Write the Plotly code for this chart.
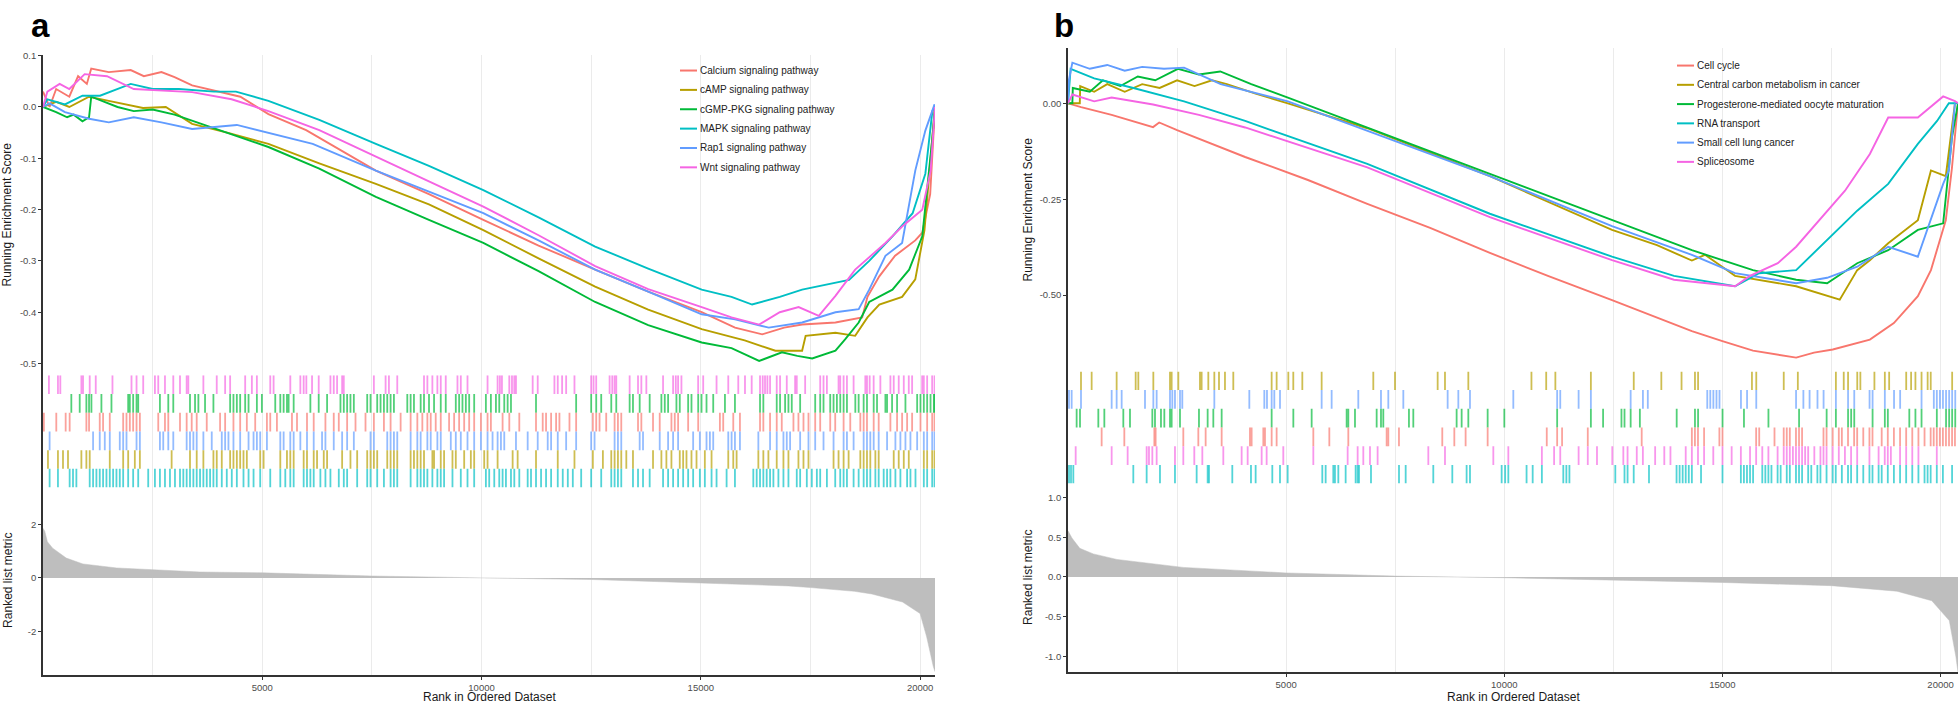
import plotly.graph_objects as go

W, H = 1960, 704
def px(x): return x / W
def py(y): return 1 - y / H

# ---------------- DATA ----------------
# colours (ggplot hue palette)
c_red, c_gold, c_green, c_cyan, c_blue, c_pink = "#F8766D", "#B79F00", "#00BA38", "#00BFC4", "#619CFF", "#F564E3"

# ----- panel a -----
a_names = ["Calcium signaling pathway", "cAMP signaling pathway", "cGMP-PKG signaling pathway",
           "MAPK signaling pathway", "Rap1 signaling pathway", "Wnt signaling pathway"]
a_colors = [c_red, c_gold, c_green, c_cyan, c_blue, c_pink]

es_a_calcium = [(0,0.03),(150,0.0),(300,0.035),(600,0.02),(800,0.06),(1000,0.045),(1100,0.075),(1500,0.068),(2000,0.072),(2300,0.06),(2700,0.068),(3000,0.058),(3400,0.042),(4000,0.03),(4500,0.02),(5140,-0.014),(6000,-0.045),(7590,-0.124),(8800,-0.17),(10040,-0.22),(11300,-0.27),(12590,-0.317),(13800,-0.36),(15020,-0.40),(15780,-0.43),(16400,-0.443),(16900,-0.43),(17310,-0.424),(18070,-0.42),(18680,-0.41),(18800,-0.37),(19070,-0.33),(19430,-0.29),(19890,-0.26),(20050,-0.245),(20230,-0.17),(20340,0.0)]
es_a_camp = [(0,0.0),(300,0.01),(600,0.0),(1050,0.02),(1500,0.012),(2280,-0.002),(2800,0.0),(3400,-0.033),(4200,-0.05),(5140,-0.072),(6300,-0.11),(7590,-0.15),(8800,-0.19),(10040,-0.24),(11300,-0.295),(12590,-0.35),(13800,-0.395),(15020,-0.433),(16000,-0.455),(16700,-0.475),(17310,-0.475),(17390,-0.446),(18070,-0.44),(18520,-0.446),(18800,-0.41),(19070,-0.385),(19590,-0.37),(19890,-0.336),(20100,-0.24),(20240,-0.09),(20340,0.0)]
es_a_cgmp = [(0,0.0),(300,-0.01),(550,-0.02),(700,-0.015),(900,-0.028),(1050,-0.02),(1100,0.02),(1400,0.01),(1700,0.0),(2070,-0.008),(2500,-0.005),(3000,-0.015),(3400,-0.027),(4200,-0.05),(5140,-0.078),(6300,-0.12),(7590,-0.175),(8800,-0.22),(10040,-0.265),(11300,-0.32),(12590,-0.38),(13800,-0.425),(15020,-0.459),(15700,-0.47),(16330,-0.495),(16850,-0.478),(17200,-0.485),(17540,-0.49),(18070,-0.475),(18290,-0.453),(18600,-0.42),(18840,-0.38),(19370,-0.356),(19750,-0.317),(20050,-0.252),(20280,-0.06),(20340,0.0)]
es_a_mapk = [(0,0.0),(100,0.015),(500,0.005),(900,0.022),(1300,0.022),(2000,0.045),(2500,0.035),(3100,0.035),(3900,0.03),(4400,0.03),(5140,0.012),(6300,-0.025),(7590,-0.072),(8800,-0.115),(10040,-0.162),(11300,-0.215),(12590,-0.272),(13800,-0.315),(15020,-0.356),(15700,-0.37),(16170,-0.385),(16800,-0.37),(17310,-0.356),(18380,-0.337),(18840,-0.30),(19370,-0.252),(19830,-0.207),(20120,-0.13),(20280,-0.008),(20340,0.0)]
es_a_rap1 = [(0,0.0),(150,0.007),(500,-0.01),(1050,-0.023),(1500,-0.03),(2070,-0.02),(2700,-0.03),(3400,-0.043),(4420,-0.035),(5140,-0.05),(6150,-0.072),(7590,-0.124),(8800,-0.165),(10040,-0.207),(11300,-0.26),(12590,-0.317),(13800,-0.36),(15020,-0.404),(15780,-0.414),(16550,-0.43),(17310,-0.42),(18070,-0.40),(18600,-0.394),(18840,-0.356),(19210,-0.29),(19590,-0.265),(19890,-0.124),(20120,-0.046),(20330,0.005),(20340,0.0)]
es_a_wnt = [(0,0.0),(100,0.03),(380,0.045),(600,0.035),(950,0.064),(1460,0.06),(2070,0.035),(2800,0.032),(3400,0.029),(4300,0.015),(5140,-0.008),(6300,-0.045),(7590,-0.097),(8800,-0.145),(10040,-0.194),(11300,-0.25),(12590,-0.31),(13800,-0.355),(15020,-0.39),(15700,-0.41),(16330,-0.424),(16800,-0.4),(17230,-0.39),(17690,-0.407),(18070,-0.368),(18520,-0.317),(19210,-0.265),(19590,-0.233),(20050,-0.2),(20240,-0.124),(20340,0.0)]

hits_a_wnt = [135,341,395,875,913,1065,1203,1584,2018,2133,2285,2552,2628,2781,2971,3124,3276,3314,3657,3962,4153,4267,4610,4763,4877,5182,5258,5639,5868,5944,6005,6135,6287,6554,6630,6706,6821,6859,7545,7812,7888,8078,8688,8765,8879,8993,9070,9184,9451,9527,9680,10137,10366,10419,10465,10633,10694,10747,10785,11166,11281,11662,11738,11837,11929,12119,12500,12554,12615,12920,12981,13034,13072,13377,13568,13644,13758,14139,14368,14429,14482,14558,14939,15054,15359,15626,15854,16007,16160,16350,16411,16464,16518,16579,16731,16807,16960,17150,17188,17379,17722,17798,17875,18141,18179,18256,18332,18484,18751,18789,18850,18941,19094,19323,19399,19513,19628,19742,19818,20047,20085,20161,20275,20330]
hits_a_cgmp = [646,837,989,1050,1104,1332,1561,1942,1980,2056,2133,2171,2666,2857,2971,3352,3467,3543,3695,3886,4267,4343,4420,4496,4610,4687,4877,4991,5296,5411,5487,5563,5601,5716,6097,6287,6478,6783,6859,6935,7011,7088,7393,7469,7621,7697,7774,7850,7926,8002,8307,8383,8459,8612,8688,8802,8917,9070,9184,9413,9489,9565,9642,9718,9832,10099,10213,10328,10404,10518,10595,10671,11242,12157,12500,12615,12729,12958,13072,13377,13453,13606,13834,14101,14178,14254,14444,14520,14711,14787,14940,15016,15130,15283,15550,15778,16350,16426,16731,16807,16922,16998,17074,17265,17608,17722,17798,17951,18027,18103,18180,18256,18332,18523,18599,18713,18789,18942,19018,19209,19247,19361,19475,19666,19933,20009,20085,20161,20238,20314,20330]
hits_a_calcium = [20,303,517,608,989,1050,1294,1370,1523,1828,1904,1980,2056,2133,2209,2628,2781,2857,3124,3276,3391,3505,3734,4038,4153,4343,4496,4648,4839,5106,5182,5334,5677,5792,6020,6173,6440,6630,6745,6935,7126,7354,7545,7774,7926,8155,8383,8536,8650,8765,8841,8955,9070,9260,9375,9489,9604,9718,9832,9985,10137,10213,10480,10633,10861,11242,11395,11471,11586,11700,11776,12005,12157,12538,12615,12691,12843,13034,13110,13186,13568,13644,13910,14063,14330,14406,14482,14711,14940,15435,15511,15740,15892,16350,16426,16579,16731,16846,17112,17226,17341,17455,17608,17722,17951,18065,18256,18408,18637,18713,18789,18942,19056,19323,19475,19590,19704,19818,20009,20161,20276,20330]
hits_a_rap1 = [151,1142,1294,1409,1523,1751,1828,1904,2133,2209,2666,2742,2857,2971,3276,3352,3429,3505,3657,3848,4077,4153,4229,4343,4496,4687,4801,4877,4953,5106,5411,5487,5639,5716,5868,6020,6173,6363,6440,6630,6821,6935,7088,7469,7545,7850,7926,8002,8078,8383,8536,8612,8765,8841,8993,9070,9299,9413,9527,9680,9832,9985,10137,10251,10366,10442,10518,10785,11052,11281,11509,11586,11738,11929,12157,12500,12577,13034,13110,13186,13606,13682,14063,14254,14368,14482,14825,14978,15130,15207,15283,15626,15702,15778,15892,16312,16579,16731,16884,16960,17036,17265,17455,17608,17798,18027,18256,18332,18484,18713,18789,18865,18942,19056,19247,19437,19551,19666,19780,19933,20085,20161,20276,20330]
hits_a_camp = [113,341,456,570,875,989,1065,1523,1828,1942,2094,2209,2933,3352,3505,3657,3886,3962,4077,4267,4343,4420,4496,4572,4648,4953,5030,5411,5563,5639,5716,5944,6020,6173,6249,6402,6478,6821,7011,7164,7393,7469,7545,7621,7850,7926,8002,8078,8383,8459,8536,8612,8688,8879,8917,9070,9146,9337,9413,9604,9756,9832,10061,10137,10366,10709,10823,11242,11738,12119,12538,12767,12958,13034,13110,13186,13301,13453,13910,14101,14215,14330,14520,14597,14673,14787,14902,15092,15245,15626,15740,15816,16312,16426,16541,16731,16884,16998,17226,17341,17455,18027,18141,18256,18370,18637,18713,18789,18865,18980,19056,19399,19513,19628,19742,20085,20161,20276,20330]
hits_a_mapk = [151,341,608,684,761,1065,1142,1218,1294,1370,1447,1523,1599,1675,1751,1828,1942,2056,2171,2399,2552,2666,2781,2895,3009,3124,3200,3276,3352,3429,3505,3581,3657,3734,3810,3886,3962,4077,4191,4305,4420,4572,4687,4801,4953,5182,5411,5525,5639,5716,5944,6020,6097,6173,6325,6440,6554,6745,6859,6935,7164,7393,7469,7621,7774,7926,8002,8078,8383,8536,8612,8688,8765,8879,8993,9070,9146,9337,9527,9680,9832,10099,10175,10290,10404,10480,10556,10671,10747,10861,11052,11128,11242,11357,11471,11586,11738,11852,11967,12081,12272,12500,12729,12958,13034,13110,13186,13453,13568,13682,13834,14139,14254,14368,14482,14597,14711,14825,14978,15092,15245,15359,15588,15778,16197,16274,16350,16426,16502,16579,16655,16769,16884,16998,17188,17265,17417,17531,17646,17722,17875,18065,18179,18256,18332,18484,18599,18713,18789,18865,18980,19056,19170,19247,19323,19437,19551,19704,19780,19895,20085,20161,20276,20330]

metric_a_rank = [0, 40, 100, 220, 530, 910, 1680, 2440, 3580, 5000, 7500, 10000, 12500, 15000, 17000, 17500, 18500, 18900, 19600, 20000, 20150, 20300, 20340]
metric_a_value = [1.85, 1.74, 1.35, 1.11, 0.74, 0.52, 0.37, 0.30, 0.22, 0.19, 0.07, 0.0, -0.06, -0.19, -0.30, -0.36, -0.50, -0.60, -0.90, -1.33, -2.2, -3.3, -3.5]

# ----- panel b -----
b_names = ["Cell cycle", "Central carbon metabolism in cancer", "Progesterone-mediated oocyte maturation",
           "RNA transport", "Small cell lung cancer", "Spliceosome"]
b_colors = [c_red, c_gold, c_green, c_cyan, c_blue, c_pink]

es_b_cellcycle = [(0,0.0),(300,-0.01),(1000,-0.03),(1950,-0.062),(2090,-0.05),(2500,-0.07),(4060,-0.14),(5500,-0.2),(6860,-0.262),(8300,-0.325),(9670,-0.39),(11000,-0.45),(12470,-0.513),(13400,-0.555),(14300,-0.594),(15000,-0.62),(15700,-0.645),(16690,-0.663),(17100,-0.65),(17530,-0.642),(18380,-0.616),(18930,-0.573),(19480,-0.503),(19780,-0.435),(20120,-0.305),(20260,-0.17),(20400,0.0)]
es_b_carbon = [(0,0.0),(270,0.0),(280,0.045),(600,0.03),(900,0.05),(1300,0.03),(1700,0.05),(2100,0.04),(2500,0.06),(2900,0.045),(3300,0.06),(3640,0.05),(4300,0.025),(5040,0.0),(6860,-0.065),(9670,-0.19),(12470,-0.33),(13500,-0.37),(14300,-0.41),(14600,-0.395),(15290,-0.45),(16690,-0.477),(17690,-0.512),(18090,-0.435),(18380,-0.409),(18800,-0.365),(19480,-0.305),(19780,-0.175),(20120,-0.19),(20330,0.0)]
es_b_progesterone = [(0,0.0),(100,0.0),(110,0.04),(500,0.03),(800,0.06),(1200,0.045),(1600,0.07),(2000,0.06),(2520,0.09),(3000,0.075),(3490,0.083),(4200,0.05),(5040,0.015),(6860,-0.063),(9670,-0.184),(12470,-0.305),(14300,-0.383),(15700,-0.435),(16690,-0.46),(17400,-0.469),(18090,-0.417),(18800,-0.383),(19480,-0.33),(20060,-0.313),(20260,-0.09),(20400,0.0)]
es_b_rna = [(0,0.0),(60,0.09),(600,0.065),(1500,0.04),(2660,0.005),(4060,-0.046),(6860,-0.158),(9670,-0.288),(12470,-0.4),(13890,-0.45),(15290,-0.477),(15840,-0.443),(16690,-0.435),(17400,-0.357),(18090,-0.28),(18800,-0.21),(19480,-0.106),(19920,-0.046),(20190,0.0),(20400,0.0)]
es_b_sclc = [(0,0.0),(20,0.06),(100,0.106),(500,0.09),(900,0.1),(1300,0.085),(1700,0.095),(2200,0.09),(2660,0.093),(3500,0.05),(5040,0.005),(6860,-0.072),(9670,-0.19),(12470,-0.32),(14300,-0.395),(15290,-0.443),(16690,-0.469),(17400,-0.455),(18090,-0.426),(18800,-0.374),(19480,-0.40),(20060,-0.21),(20190,-0.175),(20330,0.0)]
es_b_spliceosome = [(0,0.0),(100,0.023),(600,0.005),(1000,0.015),(1950,-0.003),(3000,-0.03),(4060,-0.063),(6860,-0.167),(9670,-0.297),(12470,-0.409),(13890,-0.46),(15290,-0.477),(15630,-0.45),(16270,-0.417),(16690,-0.374),(17400,-0.28),(17810,-0.228),(18380,-0.132),(18800,-0.037),(19480,-0.037),(20060,0.018),(20330,0.006),(20400,0.0)]

hits_b_carbon = [298,542,1115,1551,1612,1956,2338,2376,2529,3025,3063,3216,3354,3461,3598,3789,4668,4782,5050,5164,5371,5814,6998,7495,8473,8641,9176,10623,10961,11171,11985,12968,13600,14063,14371,14442,15677,15776,16406,16729,17601,17781,17880,18091,18162,18484,18723,18822,19213,19325,19424,19564,19704,19775,20266]
hits_b_sclc = [23,84,298,1001,1115,1230,1765,1956,2032,2338,2391,2452,2567,2620,3354,4156,4500,4561,4668,4729,4859,5814,6043,6654,7174,7342,7686,8702,8947,9214,10207,11212,11283,11704,11985,12897,13178,13290,14653,14722,14793,14864,14933,15425,15565,15776,16688,16856,16998,17179,17319,17601,17880,18022,18373,18442,18723,18934,19074,19564,19846,19915,19986,20055,20126,20197,20266,20337]
hits_b_progesterone = [198,275,695,833,1268,1421,1933,1994,2131,2208,2338,2376,2567,3002,3201,3331,3522,4668,5165,5585,6387,6425,6578,7075,7174,7227,7815,7915,8908,9023,9176,9619,10001,11212,11985,12265,12686,12756,12897,13108,13952,14371,14442,15003,15494,16055,16757,17389,17601,17880,17951,18022,18442,18723,18792,19284,19424,19564,19915,20126,20197,20266,20337]
hits_b_cellcycle = [771,1291,1979,2009,2643,2987,3155,3522,4171,4209,4477,4515,4668,4782,5623,5990,6425,7304,7342,7586,8579,8855,9114,9619,10974,11212,11325,11914,13150,14300,14370,14440,14580,14931,15002,15773,15844,16194,16405,16475,16545,16686,16756,16826,17317,17387,17528,17668,17738,17879,18019,18089,18229,18370,18440,18651,18791,18931,19072,19212,19352,19493,19633,19773,19843,19914,19984,20054,20124,20194,20264,20330]
hits_b_spliceosome = [176,1001,1367,1803,1856,1933,2032,2452,2643,2895,3079,3560,3980,4118,4439,4553,4935,5623,6410,6639,6769,6922,7097,8259,8641,9749,10093,10862,11142,11283,11704,11914,12125,12476,12729,12826,13037,13177,13458,13668,13809,14159,14300,14440,14580,14791,15002,15212,15423,15633,15773,15914,16054,16265,16405,16475,16545,16616,16686,16756,16826,16896,16966,17107,17247,17317,17387,17528,17668,17808,17949,18089,18370,18580,18721,18791,18861,19072,19212,19352,19493,19914]
hits_b_rna = [23,69,122,1497,1803,2108,2452,2949,3201,3232,3766,4194,4301,4683,4859,5035,5829,5906,6081,6119,6196,6364,6593,6639,6670,6945,7587,7740,8373,8809,9137,9214,9940,10020,10093,10511,10651,10862,11353,11423,11493,12545,12756,12826,12967,13317,13949,14019,14089,14159,14229,14300,14510,15002,15423,15493,15563,15633,15703,15914,15984,16054,16124,16265,16335,16475,16545,16686,16756,16826,16966,17037,17177,17247,17387,17528,17598,17738,17879,17949,18089,18229,18370,18440,18580,18651,18791,18931,19072,19212,19352,19493,19633,19703,19773,19914,20054,20264]

metric_b_rank = [0, 90, 270, 580, 1120, 1880, 2640, 5000, 7500, 10000, 12500, 15000, 17500, 19000, 19800, 20200, 20350, 20400]
metric_b_value = [0.58, 0.49, 0.36, 0.29, 0.22, 0.17, 0.12, 0.05, 0.01, -0.01, -0.04, -0.07, -0.11, -0.18, -0.30, -0.55, -1.0, -1.2]

# tick labels
a_es_ticks = [0.1, 0.0, -0.1, -0.2, -0.3, -0.4, -0.5]
a_es_ticktext = ["0.1", "0.0", "-0.1", "-0.2", "-0.3", "-0.4", "-0.5"]
a_metric_ticks = [2, 0, -2]
a_metric_ticktext = ["2", "0", "-2"]
b_es_ticks = [0.0, -0.25, -0.5]
b_es_ticktext = ["0.00", "-0.25", "-0.50"]
b_metric_ticks = [1.0, 0.5, 0.0, -0.5, -1.0]
b_metric_ticktext = ["1.0", "0.5", "0.0", "-0.5", "-1.0"]
x_ticks = [5000, 10000, 15000, 20000]
x_ticktext = ["5000", "10000", "15000", "20000"]

# ---------------- FIGURE ----------------
FONT = "Liberation Sans, Arial, sans-serif"
AXC = "#333333"
GRID = "#EBEBEB"
fig = go.Figure()

def rgba(hexc, a):
    h = hexc.lstrip("#")
    return "rgba(%d,%d,%d,%.2f)" % (int(h[0:2], 16), int(h[2:4], 16), int(h[4:6], 16), a)

def add_panel(es_list, names, colors, hits_rows, metric_r, metric_v, xa):
    x1, x2, x3 = xa
    # ES lines
    for es, nm, col in zip(es_list, names, colors):
        fig.add_trace(go.Scatter(x=[p[0] for p in es], y=[p[1] for p in es], mode="lines",
                                 name=nm, line=dict(color=col, width=1.9),
                                 xaxis="x" + x1, yaxis="y" + x1, showlegend=False))
    # hit rows (top row first)
    n = len(hits_rows)
    for i, (hits, col) in enumerate(hits_rows):
        lo, hi = n - 1 - i, n - i
        xs, ys = [], []
        for r in hits:
            xs += [r, r, None]
            ys += [lo, hi, None]
        fig.add_trace(go.Scatter(x=xs, y=ys, mode="lines", line=dict(color=rgba(col, 0.68), width=1.8),
                                 xaxis="x" + x2, yaxis="y" + x2, showlegend=False, hoverinfo="skip"))
    # ranked metric
    fig.add_trace(go.Scatter(x=metric_r, y=metric_v, mode="lines", fill="tozeroy",
                             fillcolor="#BEBEBE", line=dict(color="#BEBEBE", width=0.5),
                             xaxis="x" + x3, yaxis="y" + x3, showlegend=False))

add_panel([es_a_calcium, es_a_camp, es_a_cgmp, es_a_mapk, es_a_rap1, es_a_wnt], a_names, a_colors,
          [(hits_a_wnt, c_pink), (hits_a_cgmp, c_green), (hits_a_calcium, c_red),
           (hits_a_rap1, c_blue), (hits_a_camp, c_gold), (hits_a_mapk, c_cyan)],
          metric_a_rank, metric_a_value, ("", "2", "3"))
add_panel([es_b_cellcycle, es_b_carbon, es_b_progesterone, es_b_rna, es_b_sclc, es_b_spliceosome], b_names, b_colors,
          [(hits_b_carbon, c_gold), (hits_b_sclc, c_blue), (hits_b_progesterone, c_green),
           (hits_b_cellcycle, c_red), (hits_b_spliceosome, c_pink), (hits_b_rna, c_cyan)],
          metric_b_rank, metric_b_value, ("4", "5", "6"))

def xaxis(dom, rng, anchor, bottom=False):
    d = dict(domain=dom, range=rng, anchor=anchor, showgrid=True, gridcolor=GRID, gridwidth=1,
             tickvals=x_ticks, ticktext=x_ticktext, zeroline=False,
             minor=dict(dtick=2500, tick0=0, showgrid=True, gridcolor=GRID, gridwidth=1, ticks=""),
             showticklabels=bottom, ticks="outside" if bottom else "", ticklen=3, tickwidth=1,
             tickcolor=AXC, showline=bottom, linecolor=AXC, linewidth=1.6,
             tickfont=dict(family=FONT, size=9.5, color="#4D4D4D"), fixedrange=True)
    return d

def yaxis(dom, rng, anchor, tv=None, tt=None):
    d = dict(domain=dom, range=rng, anchor=anchor, showgrid=False, zeroline=False,
             showline=True, linecolor=AXC, linewidth=1.6, fixedrange=True,
             tickfont=dict(family=FONT, size=9.5, color="#4D4D4D"))
    if tv is None:
        d.update(showticklabels=False, ticks="")
    else:
        d.update(tickvals=tv, ticktext=tt, ticks="outside", ticklen=3, tickwidth=1, tickcolor=AXC)
    return d

xa = [px(43), px(935)]
xb = [px(1068), px(1958)]
NA, NB = 20340, 20400

fig.update_layout(
    xaxis=xaxis(xa, [0, NA], "y"),
    yaxis=yaxis([py(373), py(50)], [-0.523, 0.102], "x", a_es_ticks, a_es_ticktext),
    xaxis2=xaxis(xa, [0, NA], "y2"),
    yaxis2=yaxis([py(486), py(373)], [0, 6], "x2"),
    xaxis3=xaxis(xa, [0, NA], "y3", bottom=True),
    yaxis3=yaxis([py(675), py(486)], [-3.63, 3.37], "x3", a_metric_ticks, a_metric_ticktext),
    xaxis4=xaxis(xb, [0, NB], "y4"),
    yaxis4=yaxis([py(369), py(43)], [-0.699, 0.145], "x4", b_es_ticks, b_es_ticktext),
    xaxis5=xaxis(xb, [0, NB], "y5"),
    yaxis5=yaxis([py(482), py(369)], [0, 6], "x5"),
    xaxis6=xaxis(xb, [0, NB], "y6", bottom=True),
    yaxis6=yaxis([py(672), py(482)], [-1.2, 1.175], "x6", b_metric_ticks, b_metric_ticktext),
)

ann = []
def text(x, y, s, size=12, angle=0, xanchor="center", yanchor="middle", bold=False, color="#1A1A1A"):
    ann.append(dict(x=px(x), y=py(y), xref="paper", yref="paper", text=("<b>%s</b>" % s) if bold else s,
                    showarrow=False, textangle=angle, xanchor=xanchor, yanchor=yanchor,
                    font=dict(family=FONT, size=size, color=color)))

# panel letters
text(29, 0, "a", size=33, xanchor="left", yanchor="top", bold=True, color="#000000")
text(1052, 0, "b", size=33, xanchor="left", yanchor="top", bold=True, color="#000000")
# axis titles
text(7, 211, "Running Enrichment Score", angle=-90)
text(8, 580, "Ranked list metric", angle=-90)
text(489, 697, "Rank in Ordered Dataset")
text(1028, 206, "Running Enrichment Score", angle=-90)
text(1028, 577, "Ranked list metric", angle=-90)
text(1513, 697, "Rank in Ordered Dataset")

# legends (inside the ES panels)
shapes = []
def legend(names, colors, x0, y0, dy):
    for i, (nm, col) in enumerate(zip(names, colors)):
        y = y0 + i * dy
        shapes.append(dict(type="line", xref="paper", yref="paper", x0=px(x0), x1=px(x0 + 17),
                           y0=py(y), y1=py(y), line=dict(color=col, width=2)))
        text(x0 + 18, y, nm, size=10, xanchor="left", color="#222222")

legend(a_names, a_colors, 680, 66, 19.5)
legend(b_names, b_colors, 1677, 61, 19.4)

fig.update_layout(width=W, height=H, margin=dict(l=0, r=0, t=0, b=0, pad=0),
                  paper_bgcolor="white", plot_bgcolor="white",
                  annotations=ann, shapes=shapes, showlegend=False,
                  font=dict(family=FONT))

fig.write_html("out.html", config={"displayModeBar": False},
               post_script="document.body.style.margin='0';document.body.style.overflow='hidden';")
